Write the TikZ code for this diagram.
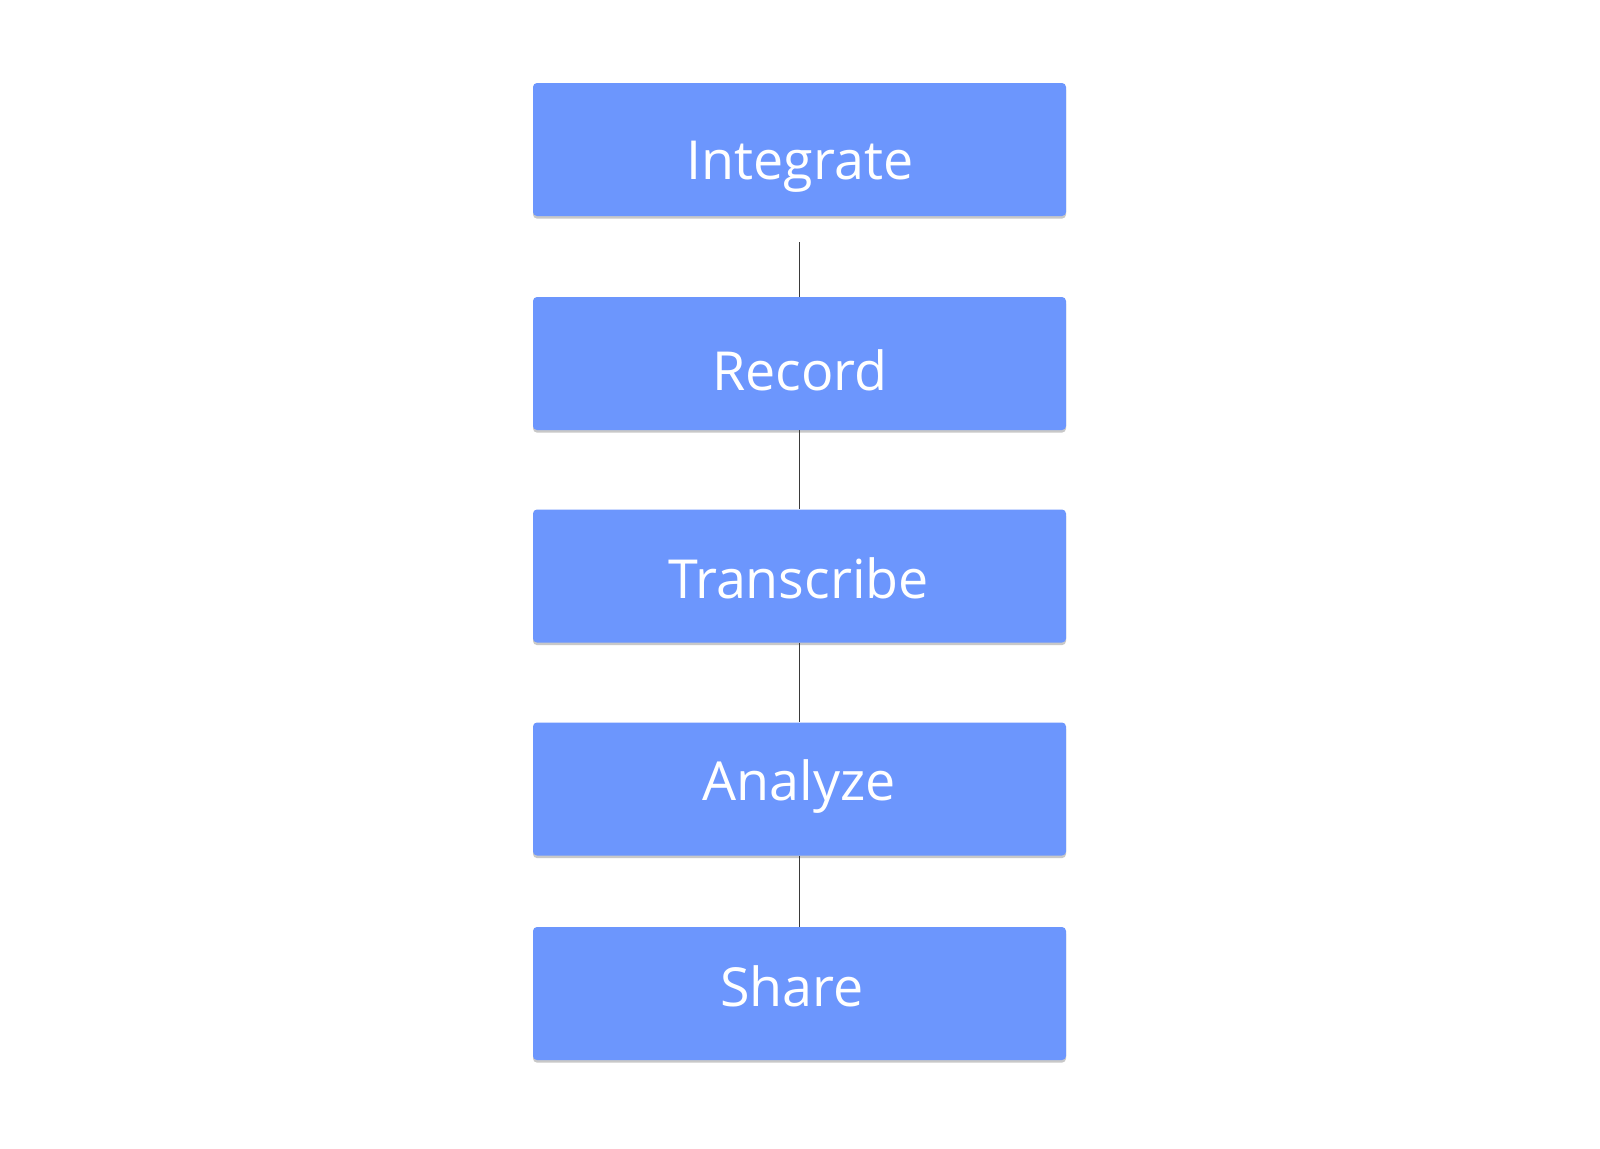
\documentclass[tikz,border=0pt]{standalone}
\usepackage{fontspec}
\setmainfont{Open Sans}
\usetikzlibrary{shadows}
\definecolor{boxblue}{HTML}{6C96FD}
\definecolor{linegray}{HTML}{3A3A3A}
\tikzset{
  stepbox/.style={rectangle, fill=boxblue, draw=none, rounded corners=2pt,
    minimum width=266.5pt, minimum height=66.5pt, inner sep=0pt,
    drop shadow={shadow xshift=0pt, shadow yshift=-1.3pt, opacity=0.3, fill=black!70}},
  steplabel/.style={anchor=base, text=white, font=\fontsize{26.9pt}{30pt}\selectfont, inner sep=0pt},
  conn/.style={draw=linegray, line width=0.5pt}
}
\begin{document}
\begin{tikzpicture}[x=0.5pt,y=-0.5pt]
\useasboundingbox (0,0) rectangle (1600,1148);
\fill[white] (0,0) rectangle (1600,1148);
\node[stepbox] (b1) at (799.5,149.5) {};
\node[stepbox] (b2) at (799.5,363.5) {};
\node[stepbox] (b3) at (799.5,576) {};
\node[stepbox] (b4) at (799.5,789) {};
\node[stepbox] (b5) at (799.5,993.5) {};
\node[steplabel] (t1) at (800,179) {Integrate};
\node[steplabel] (t2) at (800,390) {Record};
\node[steplabel] (t3) at (798.5,598) {Transcribe};
\node[steplabel] (t4) at (799,800) {Analyze};
\node[steplabel] (t5) at (792,1006) {Share};
\coordinate (c0) at (799,242);
\draw[conn] (c0) -- (b2.north -| c0);
\draw[conn] (b2.south -| c0) -- (b3.north -| c0);
\draw[conn] (b3.south -| c0) -- (b4.north -| c0);
\draw[conn] (b4.south -| c0) -- (b5.north -| c0);
\end{tikzpicture}
\end{document}
